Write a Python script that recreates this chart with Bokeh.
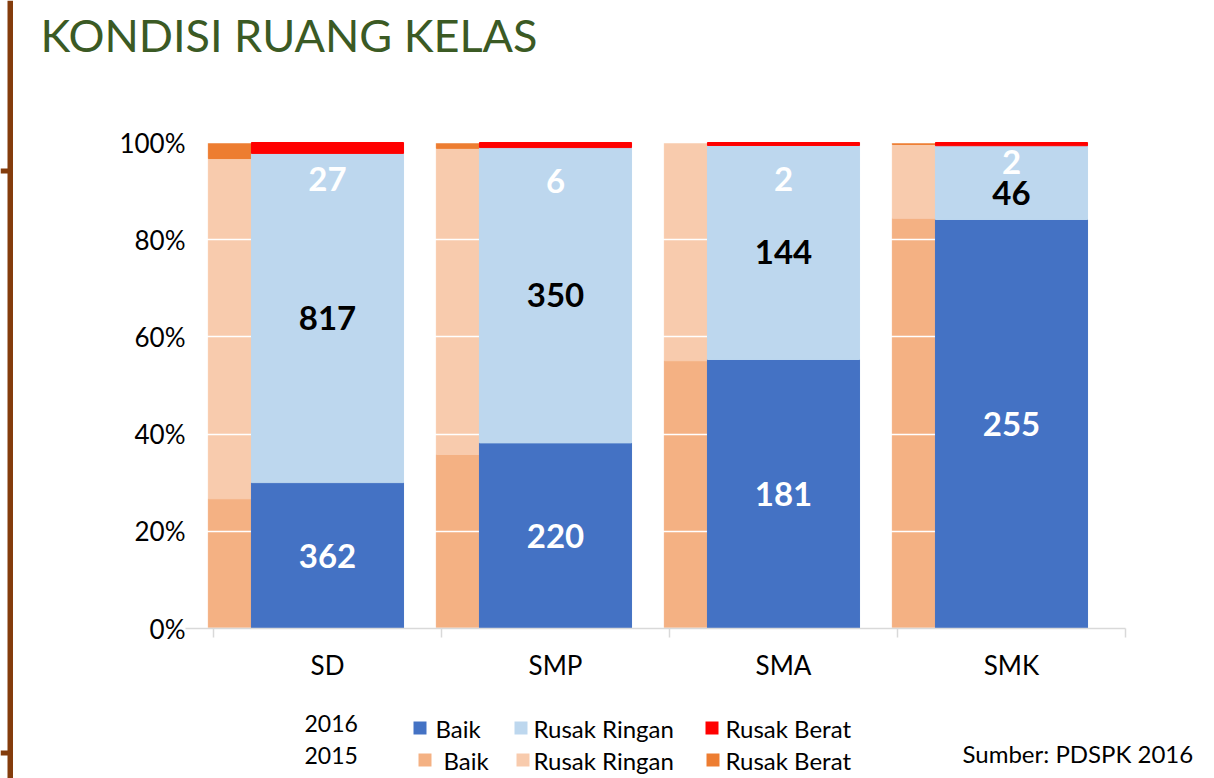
from bokeh.plotting import figure
from bokeh.models import (Range1d, FixedTicker, NumeralTickFormatter, ColumnDataSource,
                          BoxAnnotation, Label)
from bokeh.core.properties import value
from bokeh.embed import file_html
from bokeh.resources import INLINE

# ---------------- data ----------------
categories = ["SD", "SMP", "SMA", "SMK"]
baik_2016 = [362, 220, 181, 255]
ringan_2016 = [817, 350, 144, 46]
berat_2016 = [27, 6, 2, 2]
# 2015 shares (percent)
baik_2015 = [26.7, 35.8, 55.1, 84.4]
ringan_2015 = [70.0, 63.0, 44.9, 15.2]
berat_2015 = [3.3, 1.2, 0.0, 0.4]
y_ticks = [0, 0.2, 0.4, 0.6, 0.8, 1.0]
series_names = ["Baik", "Rusak Ringan", "Rusak Berat"]
years = ["2016", "2015"]
title_text = "KONDISI RUANG KELAS"
source_text = "Sumber: PDSPK 2016"

# ---------------- style / layout ----------------
colors_2016 = ["#4472C4", "#BDD7EE", "#FF0000"]
colors_2015 = ["#F4B183", "#F8CBAD", "#ED7D31"]
FONT = "Lato"
BROWN = "#843C0C"
W, H = 1214, 778
X0_PX, PX_PER_X = 213, 228     # pixel of x=0 and pixels per category
Y0_PX, PX_PER_Y = 628, 486     # pixel of 0% and pixels per 100%

n = len(categories)
xc = [i + 0.5 for i in range(n)]
tot16 = [a + b + c for a, b, c in zip(baik_2016, ringan_2016, berat_2016)]
tot15 = [a + b + c for a, b, c in zip(baik_2015, ringan_2015, berat_2015)]

src16 = ColumnDataSource(dict(
    x=xc,
    b=[v / t for v, t in zip(baik_2016, tot16)],
    r=[v / t for v, t in zip(ringan_2016, tot16)],
    k=[v / t for v, t in zip(berat_2016, tot16)],
))
src15 = ColumnDataSource(dict(
    x=[x - 0.189 for x in xc],
    b=[v / t for v, t in zip(baik_2015, tot15)],
    r=[v / t for v, t in zip(ringan_2015, tot15)],
    k=[v / t for v, t in zip(berat_2015, tot15)],
))

x_rng = Range1d(-X0_PX / PX_PER_X, (W - X0_PX) / PX_PER_X)
y_rng = Range1d(-(H - Y0_PX) / PX_PER_Y, Y0_PX / PX_PER_Y)

p = figure(width=W, height=H, output_backend="svg", toolbar_location=None,
           x_range=x_rng, y_range=y_rng,
           min_border_left=0, min_border_right=0, min_border_top=0, min_border_bottom=0)
p.outline_line_color = None
p.background_fill_color = "white"
p.border_fill_color = "white"

# 2015 bars behind the grid, 2016 bars above it
p.vbar_stack(["b", "r", "k"], x="x", width=0.667, color=colors_2015, source=src15,
             level="image")
p.vbar_stack(["b", "r", "k"], x="x", width=0.667, color=colors_2016, source=src16)

# data labels for 2016
lab_x, lab_y, lab_t, lab_c, lab_dy = [], [], [], [], []
berat_dy = [36, 38, 36, 19]
ringan_dy = [0, 0, 0, 10]
for i in range(n):
    fb = baik_2016[i] / tot16[i]
    fr = ringan_2016[i] / tot16[i]
    lab_x += [xc[i]] * 3
    lab_y += [fb / 2, fb + fr / 2, 1.0]
    lab_t += [str(baik_2016[i]), str(ringan_2016[i]), str(berat_2016[i])]
    lab_c += ["white", "black", "white"]
    lab_dy += [0, ringan_dy[i], berat_dy[i]]
p.text(x="x", y="y", text="t", text_color="c", y_offset="dy",
       source=ColumnDataSource(dict(x=lab_x, y=lab_y, t=lab_t, c=lab_c, dy=lab_dy)),
       text_font=value(FONT), text_font_style="bold", text_font_size="33px",
       text_align="center", text_baseline="middle")

# axes (drawn inside the full-canvas frame)
p.yaxis.fixed_location = -0.114
p.yaxis.bounds = (0, 1)
p.yaxis.ticker = FixedTicker(ticks=y_ticks)
p.yaxis.formatter = NumeralTickFormatter(format="0%")
p.yaxis.axis_line_color = None
p.yaxis.major_tick_line_color = None
p.yaxis.minor_tick_line_color = None
p.yaxis.major_tick_out = 0
p.yaxis.major_label_text_font = FONT
p.yaxis.major_label_text_font_size = "26px"
p.yaxis.major_label_text_color = "black"
p.yaxis.major_label_standoff = 2

p.xaxis.fixed_location = 0
p.xaxis.bounds = (-0.123, 4.0)
p.xaxis.ticker = FixedTicker(ticks=xc, minor_ticks=[i for i in range(n + 1)])
p.xaxis.major_label_overrides = {x: c for x, c in zip(xc, categories)}
p.xaxis.major_tick_line_color = None
p.xaxis.major_tick_out = 0
p.xaxis.minor_tick_in = 0
p.xaxis.minor_tick_out = 9
p.xaxis.minor_tick_line_color = "#D9D9D9"
p.xaxis.minor_tick_line_width = 1.5
p.xaxis.axis_line_color = "#D9D9D9"
p.xaxis.axis_line_width = 1.5
p.xaxis.major_label_text_font = FONT
p.xaxis.major_label_text_font_size = "26px"
p.xaxis.major_label_text_color = "black"
p.xaxis.major_label_standoff = 11

p.xgrid.visible = False
p.ygrid.ticker = FixedTicker(ticks=y_ticks)
p.ygrid.grid_line_color = "white"
p.ygrid.grid_line_width = 1.5


def canvas_box(l, r, t, b, color):
    return BoxAnnotation(left=l, right=r, top=t, bottom=b,
                         left_units="canvas", right_units="canvas",
                         top_units="canvas", bottom_units="canvas",
                         fill_color=color, fill_alpha=1, line_color=None,
                         level="overlay")


def canvas_label(x, y, text, size, color="black", baseline="middle"):
    return Label(x=x, y=y, x_units="canvas", y_units="canvas", text=text,
                 text_font=FONT, text_font_size=size, text_color=color,
                 text_baseline=baseline)


# slide decoration (brown border with two small tabs)
p.add_layout(canvas_box(7, 12.5, 0, H, BROWN))
for yy in (168, 750):
    p.add_layout(canvas_box(0, 8, yy, yy + 5, BROWN))

# title
p.add_layout(canvas_label(40, 34, title_text, "45px", color="#3B5A24"))

# legend (two rows: 2016 and 2015)
row_y = [728, 760]
row_sq = [[413, 514, 705], [418, 516, 706]]
row_tx = [[435, 533, 725], [443, 533, 725]]
palettes = [colors_2016, colors_2015]
for r in range(2):
    p.add_layout(canvas_label(304, row_y[r] - 5, years[r], "23px"))
    for j in range(3):
        p.add_layout(canvas_box(row_sq[r][j], row_sq[r][j] + 13,
                                row_y[r] - 7, row_y[r] + 6, palettes[r][j]))
        p.add_layout(canvas_label(row_tx[r][j], row_y[r], series_names[j], "24px"))

p.add_layout(canvas_label(962, 753, source_text, "24px"))

open("out.html", "w").write(file_html(p, INLINE))
